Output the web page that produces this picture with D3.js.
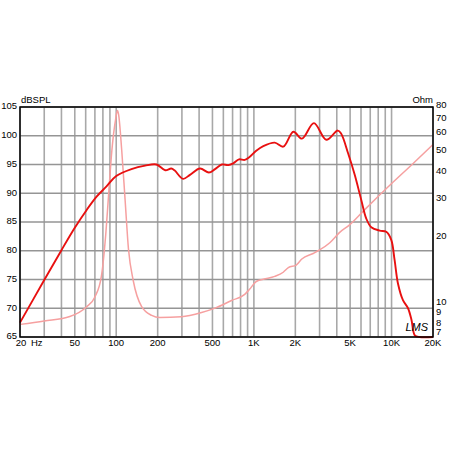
<!DOCTYPE html>
<html>
<head>
<meta charset="utf-8">
<script src="https://cdn.jsdelivr.net/npm/d3@7"></script>
<style>
  body { margin: 0; background: #fff; }
  text { font-family: Arial, "Liberation Sans", sans-serif; }
</style>
</head>
<body>
<svg id="drawing_region"></svg>
<script>
// SPL response (red)
const splFreq = [20, 30, 40, 50, 61, 72, 85, 100, 129, 162, 196, 227, 251, 265, 306, 343, 406, 471, 522, 585, 652, 708, 780, 858, 930, 1040, 1170, 1417, 1634, 1936, 2233, 2730, 3356, 4070, 4300, 4840, 5400, 6030, 6550, 7120, 8200, 9150, 9950, 10520, 11130, 12100, 13170, 13950, 14750, 16000, 20000];
const splDb = [67.5, 74.9, 80.1, 84.0, 87.1, 89.4, 91.2, 93.0, 94.2, 94.8, 95.0, 94.0, 94.3, 94.0, 92.5, 93.2, 94.3, 93.6, 94.2, 95.0, 94.9, 95.2, 95.9, 95.8, 96.3, 97.4, 98.2, 98.8, 98.1, 100.7, 99.5, 102.2, 99.3, 100.9, 100.4, 96.9, 93.2, 88.8, 85.6, 84.1, 83.5, 83.3, 81.9, 78.4, 74.3, 71.4, 70.0, 68.0, 65.3, 65, 65];

// impedance (pink)
const impFreq = [20, 30, 46, 61, 70, 78, 84, 87.5, 93, 98.8, 102, 104, 109.6, 116, 122.7, 133, 153, 181, 207, 297, 417, 522, 688, 858, 930, 1040, 1170, 1417, 1634, 1780, 2030, 2230, 2720, 3000, 3560, 4200, 4930, 6280, 9750, 14470, 20000];
const impOhm = [8.0, 8.3, 8.7, 9.65, 10.7, 13.3, 20.9, 29.9, 50.7, 69.7, 77, 74, 50.7, 29.9, 17.8, 12.7, 9.65, 8.8, 8.6, 8.67, 9.07, 9.5, 10.3, 11.0, 11.6, 12.6, 12.9, 13.3, 13.9, 14.6, 15.0, 16.0, 17.0, 17.6, 19.0, 21.2, 22.9, 26.7, 35, 44.2, 53.8];

// ticks
const dbTicks = [65, 70, 75, 80, 85, 90, 95, 100, 105];
const ohmTicks = [7, 8, 9, 10, 20, 30, 40, 50, 60, 70, 80];
const freqTicks = [50, 100, 200, 500, 1000, 2000, 5000, 10000, 20000];
const freqLabels = ['50', '100', '200', '500', '1K', '2K', '5K', '10K', '20K'];
const freqGrid = [20, 30, 40, 50, 60, 70, 80, 90, 100, 200, 300, 400, 500, 600, 700, 800, 900,
                  1000, 2000, 3000, 4000, 5000, 6000, 7000, 8000, 9000, 10000, 20000];

class ResponseChart {

    constructor( config ) {
        this.config = {
            parent: '#drawing_region',
            width: config.width || 450,
            height: config.height || 450,
            margin: config.margin || {top:107, right:17, bottom:113, left:20}
        };
        this.init();
    }

    init() {
        let self = this;

        self.svg = d3.select( self.config.parent )
            .attr('width', self.config.width)
            .attr('height', self.config.height);

        self.chart = self.svg.append('g')
            .attr('transform', `translate(${self.config.margin.left}, ${self.config.margin.top})`);

        self.inner_width = self.config.width - self.config.margin.left - self.config.margin.right;
        self.inner_height = self.config.height - self.config.margin.top - self.config.margin.bottom;

        self.xscale = d3.scaleLog()
            .domain([20, 20000])
            .range([0, self.inner_width]);

        self.yscale = d3.scaleLinear()
            .domain([65, 105])
            .range([self.inner_height, 0]);

        self.zscale = d3.scaleLog()
            .domain([7, 80])
            .range([self.inner_height, 0]);

        self.render();
    }

    render() {
        let self = this;
        const w = self.inner_width, h = self.inner_height;

        // grid
        self.chart.selectAll('.vgrid').data(freqGrid).enter()
            .append('line')
            .attr('x1', d => self.xscale(d)).attr('x2', d => self.xscale(d))
            .attr('y1', 0).attr('y2', h)
            .attr('stroke', '#a8a8a8')
            .attr('stroke-width', 1.6);

        self.chart.selectAll('.hgrid').data(dbTicks).enter()
            .append('line')
            .attr('x1', 0).attr('x2', w)
            .attr('y1', d => self.yscale(d)).attr('y2', d => self.yscale(d))
            .attr('stroke', '#959595')
            .attr('stroke-width', 1.3);

        // impedance
        const impLine = d3.line()
            .x(d => self.xscale(d[0]))
            .y(d => self.zscale(d[1]))
            .curve(d3.curveMonotoneX);
        self.chart.append('path')
            .datum(d3.zip(impFreq, impOhm))
            .attr('d', impLine)
            .attr('fill', 'none')
            .attr('stroke', '#f6a0a0')
            .attr('stroke-width', 1.5);

        // SPL
        const splLine = d3.line()
            .x(d => self.xscale(d[0]))
            .y(d => self.yscale(d[1]))
            .curve(d3.curveCatmullRom.alpha(0.5));
        self.chart.append('path')
            .datum(d3.zip(splFreq, splDb))
            .attr('d', splLine)
            .attr('fill', 'none')
            .attr('stroke', '#e81010')
            .attr('stroke-width', 1.9);

        // frame
        self.chart.append('rect')
            .attr('width', w).attr('height', h)
            .attr('fill', 'none')
            .attr('stroke', '#000')
            .attr('stroke-width', 1.5);

        // left labels
        self.chart.selectAll('.ylab').data(dbTicks).enter()
            .append('text')
            .attr('x', -3)
            .attr('y', d => self.yscale(d) - 1)
            .attr('dy', '0.35em')
            .attr('text-anchor', 'end')
            .attr('font-size', 9.5)
            .text(d => d);

        // right labels (lowest one nudged up, clear of 20K)
        self.chart.selectAll('.zlab').data(ohmTicks).enter()
            .append('text')
            .attr('x', w + 3)
            .attr('y', d => self.zscale(d) - (d === 7 ? 5 : 2))
            .attr('dy', '0.35em')
            .attr('font-size', 9.5)
            .text(d => d);

        // bottom labels
        self.chart.selectAll('.xlab').data(freqTicks).enter()
            .append('text')
            .attr('x', d => self.xscale(d))
            .attr('y', h + 9)
            .attr('text-anchor', 'middle')
            .attr('font-size', 9.5)
            .text((d, i) => freqLabels[i]);

        self.chart.append('text')
            .attr('x', self.xscale(20) + 1).attr('y', h + 9)
            .attr('text-anchor', 'middle').attr('font-size', 9.5)
            .text('20');
        self.chart.append('text')
            .attr('x', 11).attr('y', h + 9)
            .attr('font-size', 9.5)
            .text('Hz');

        // axis titles
        self.chart.append('text')
            .attr('x', 1).attr('y', -4)
            .attr('font-size', 9.5)
            .text('dBSPL');
        self.chart.append('text')
            .attr('x', w).attr('y', -4)
            .attr('text-anchor', 'end')
            .attr('font-size', 9.5)
            .text('Ohm');

        // logo
        self.chart.append('text')
            .attr('x', w - 5).attr('y', h - 6)
            .attr('text-anchor', 'end')
            .attr('font-family', '"DejaVu Serif", serif')
            .attr('font-style', 'italic')
            .attr('font-size', 11)
            .text('LMS');
    }
}

new ResponseChart( {} );
</script>
</body>
</html>
